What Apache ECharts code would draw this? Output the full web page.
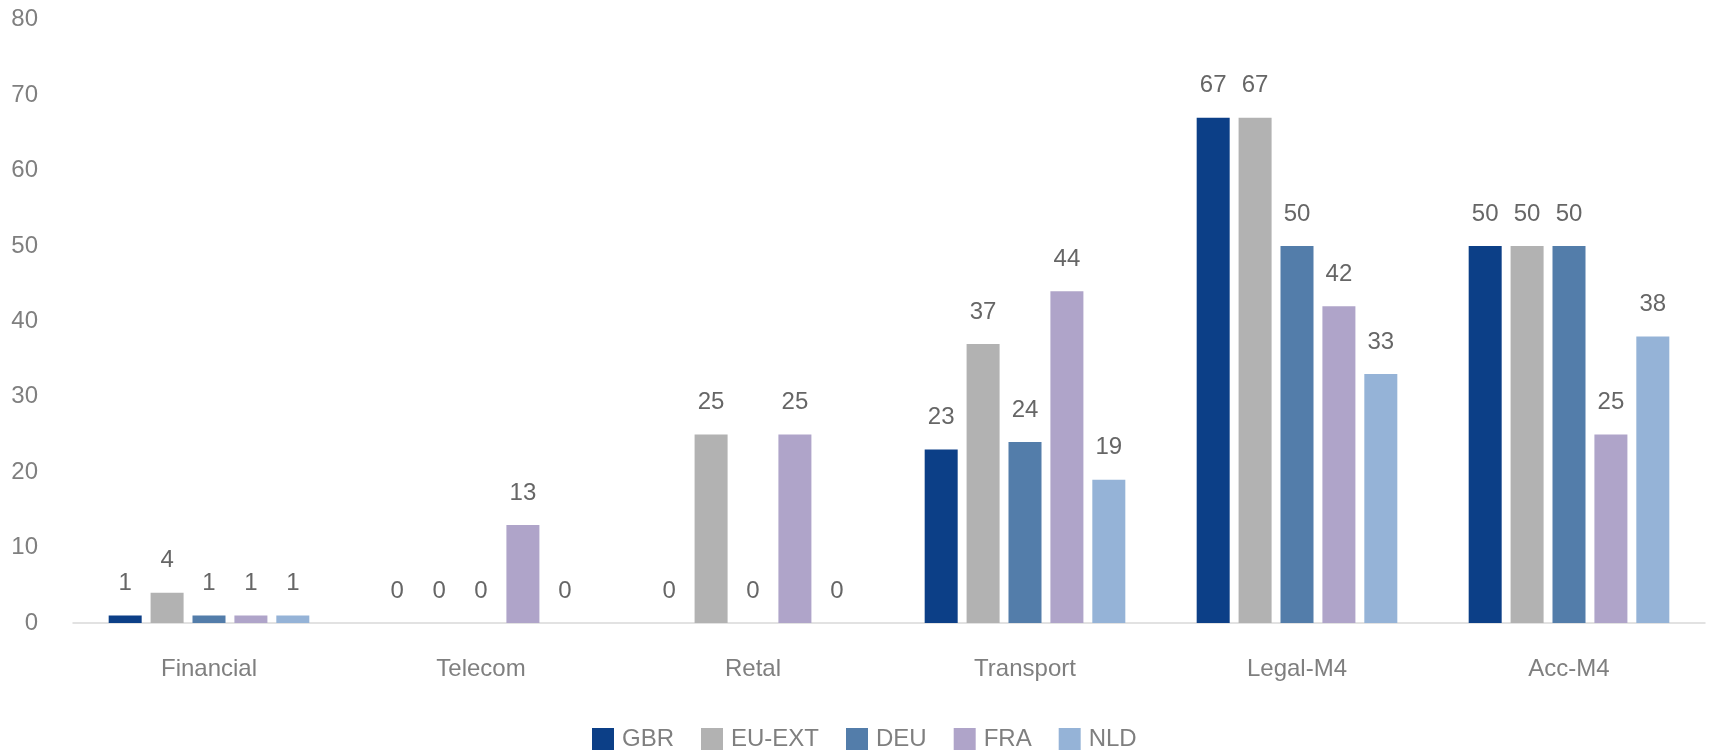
<!DOCTYPE html>
<html><head><meta charset="utf-8">
<script src="https://cdn.jsdelivr.net/npm/echarts@6/dist/echarts.min.js"></script>
<style>html,body{margin:0;padding:0;background:#fff}#c{width:1710px;height:751px}</style>
</head><body><div id="c"></div>
<script>
const categories = ['Financial', 'Telecom', 'Retal', 'Transport', 'Legal-M4', 'Acc-M4'];
const seriesNames = ['GBR', 'EU-EXT', 'DEU', 'FRA', 'NLD'];
const GBR = [1, 0, 0, 23, 67, 50];
const EU_EXT = [4, 0, 25, 37, 67, 50];
const DEU = [1, 0, 0, 24, 50, 50];
const FRA = [1, 13, 25, 44, 42, 25];
const NLD = [1, 0, 0, 19, 33, 38];
const yTicks = [0, 10, 20, 30, 40, 50, 60, 70, 80];

const values = [GBR, EU_EXT, DEU, FRA, NLD];
const colors = ['#0C3F87', '#B2B2B2', '#537DAA', '#AFA4C9', '#95B3D7'];
const font = 'Liberation Sans, Arial, sans-serif';

const chart = echarts.init(document.getElementById('c'));
chart.setOption({
  animation: false,
  textStyle: { fontFamily: font },
  grid: { left: 73, right: 5, top: 19.6, bottom: 128, containLabel: false },
  legend: {
    left: 587, top: 722,
    icon: 'rect',
    itemWidth: 22, itemHeight: 22, itemGap: 27,
    textStyle: { fontFamily: font, fontSize: 24, color: '#7F7F7F', padding: [0, 0, 0, 3] },
    data: seriesNames
  },
  xAxis: {
    type: 'category', data: categories,
    axisLine: { lineStyle: { color: '#D9D9D9', width: 1.5 } },
    axisTick: { show: false },
    axisLabel: { fontFamily: font, fontSize: 24, color: '#7F7F7F', margin: 34 }
  },
  yAxis: {
    type: 'value', min: yTicks[0], max: yTicks[yTicks.length - 1], interval: 10,
    axisLine: { show: false }, axisTick: { show: false },
    splitLine: { show: false },
    axisLabel: { fontFamily: font, fontSize: 24, color: '#7F7F7F', margin: 35 }
  },
  series: seriesNames.map((n, i) => ({
    name: n, type: 'bar', data: values[i],
    barWidth: 33, barGap: '27%',
    itemStyle: { color: colors[i] },
    label: { show: true, position: 'top', distance: 20, fontFamily: font, fontSize: 24, color: '#666666' }
  }))
});
</script></body></html>
